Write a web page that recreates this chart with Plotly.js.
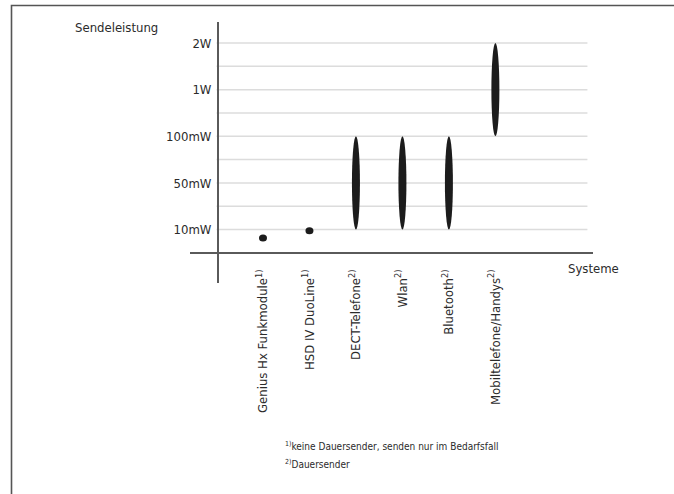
<!DOCTYPE html>
<html>
<head>
<meta charset="utf-8">
<script src="https://cdn.plot.ly/plotly-3.0.1.min.js"></script>
<style>html,body{margin:0;padding:0;background:#fff;}#chart{width:674px;height:494px;}</style>
</head>
<body>
<div id="chart"></div>
<script>
// Categories (x positions 1..6)
const categories = ["Genius Hx Funkmodule", "HSD IV DuoLine", "DECT-Telefone", "Wlan", "Bluetooth", "Mobiltelefone/Handys"];
const footnoteRefs = ["1)", "1)", "2)", "2)", "2)", "2)"];
// Power range on level scale (0 = baseline; 1 = 10mW, 3 = 50mW, 5 = 100mW, 7 = 1W, 9 = 2W)
const levelLow  = [0.64, 0.95, 1, 1, 1, 5];
const levelHigh = [0.64, 0.95, 5, 5, 5, 9];
const tickLevels = [1, 3, 5, 7, 9];
const tickLabels = ["10mW", "50mW", "100mW", "1W", "2W"];
const gridLevels = [1, 2, 3, 4, 5, 6, 7, 8, 9];
const footnotes = ["keine Dauersender, senden nur im Bedarfsfall", "Dauersender"];

const FONT = "DejaVu Sans Condensed, Liberation Sans, sans-serif";
const FS = 13;
const TXT = "#2b2b2b";
const xPos = categories.map((c, i) => i + 1);

const shapes = [];
gridLevels.forEach(g => shapes.push({type: "line", xref: "x", yref: "y", x0: 0, x1: 7.98, y0: g, y1: g,
  line: {color: "#dcdcdc", width: 1.5}, layer: "below"}));
xPos.forEach((x, i) => {
  const point = levelLow[i] === levelHigh[i];
  const s = {type: "circle", xref: "x", yref: "y", xsizemode: "pixel", xanchor: x, x0: -4, x1: 4,
    fillcolor: "#1c1c1c", line: {width: 0}};
  if (point) { s.ysizemode = "pixel"; s.yanchor = levelLow[i]; s.y0 = -3.5; s.y1 = 3.5; }
  else { s.y0 = levelLow[i]; s.y1 = levelHigh[i]; }
  shapes.push(s);
});
// outer frame
shapes.push({type: "rect", xref: "paper", yref: "paper", x0: 11.5/674, x1: 1.2, y0: -0.2, y1: (494-5.5)/494,
  line: {color: "#555", width: 1.6}, fillcolor: "rgba(0,0,0,0)"});

const annotations = [
  {text: "Sendeleistung", xref: "paper", yref: "paper", x: 73/674, y: (494-28)/494, xanchor: "left", yanchor: "middle", showarrow: false, font: {family: FONT, size: FS, color: TXT}},
  {text: "Systeme", xref: "paper", yref: "paper", x: 566/674, y: (494-268)/494, xanchor: "left", yanchor: "middle", showarrow: false, font: {family: FONT, size: FS, color: TXT}},
  {text: "<sup>1)</sup>" + footnotes[0], xref: "paper", yref: "paper", x: 283/674, y: (494-446)/494, xanchor: "left", yanchor: "middle", showarrow: false, font: {family: FONT, size: 10, color: TXT}},
  {text: "<sup>2)</sup>" + footnotes[1], xref: "paper", yref: "paper", x: 283/674, y: (494-464)/494, xanchor: "left", yanchor: "middle", showarrow: false, font: {family: FONT, size: 10, color: TXT}}
];

const data = [{x: xPos, y: levelLow, type: "scatter", mode: "markers", marker: {opacity: 0}, hoverinfo: "skip", showlegend: false}];

const layout = {
  width: 674, height: 494,
  margin: {l: 0, r: 0, t: 0, b: 0},
  paper_bgcolor: "#fff", plot_bgcolor: "rgba(0,0,0,0)",
  showlegend: false,
  xaxis: {domain: [190/674, 593/674], range: [-0.57, 8.10], anchor: "free", position: (494-266)/494,
    tickvals: xPos, ticktext: categories.map((c, i) => c + "<sup>" + footnoteRefs[i] + "</sup>"),
    tickangle: -90, showgrid: false, zeroline: false, showline: false, ticks: "",
    tickfont: {family: FONT, size: FS, color: TXT}},
  yaxis: {domain: [(494-283)/494, (494-22)/494], range: [-1.29, 9.9], anchor: "free", position: 217/674,
    tickvals: tickLevels, ticktext: tickLabels, showgrid: false, zeroline: true, zerolinecolor: "#5a5a5a", zerolinewidth: 1.5,
    showline: true, linecolor: "#5a5a5a", linewidth: 1.5, ticks: "", ticklabelstandoff: 3,
    tickfont: {family: FONT, size: FS, color: TXT}},
  shapes: shapes,
  annotations: annotations
};
Plotly.newPlot("chart", data, layout, {displayModeBar: false, staticPlot: true});
</script>
</body>
</html>
